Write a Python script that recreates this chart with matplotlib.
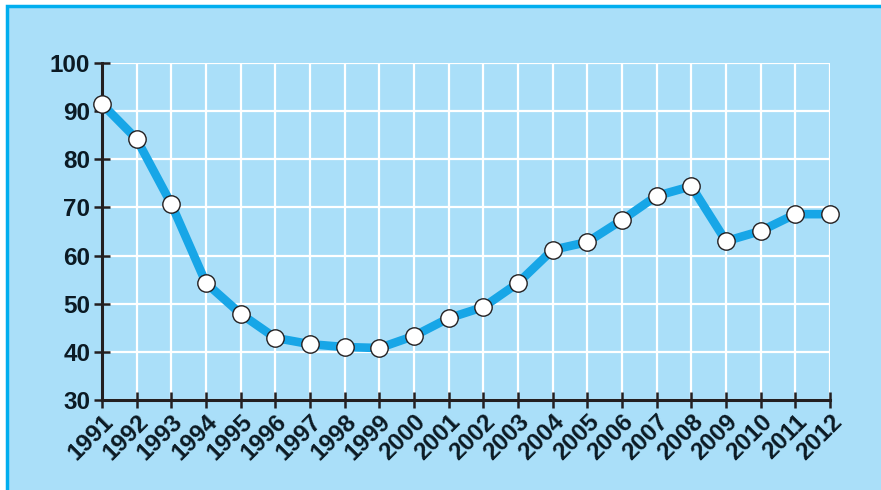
import numpy as np
import matplotlib.pyplot as plt
from matplotlib.patches import Rectangle

years = list(range(1991, 2013))
values = [91.5, 84.2, 70.7, 54.3, 47.9, 42.9, 41.6, 41.0, 40.8, 43.3, 47.0,
          49.3, 54.3, 61.2, 62.8, 67.4, 72.4, 74.4, 63.0, 65.1, 68.6, 68.6]
y_ticks = [30, 40, 50, 60, 70, 80, 90, 100]

bg = '#aadff9'
line_col = '#17a6e7'
dark = '#231f20'

fig = plt.figure(figsize=(8.81, 4.90), dpi=100, facecolor='white')
fig.patches.append(Rectangle((7 / 881, -0.1), 1.1, 1.1 - 6 / 490,
                             transform=fig.transFigure, facecolor=bg,
                             edgecolor='#00aeef', linewidth=2.5, zorder=-10))

ax = fig.add_axes([102 / 881, 1 - 400 / 490, 728 / 881, 337 / 490])
ax.set_facecolor(bg)
ax.set_xlim(1991, 2012)
ax.set_ylim(30, 100)

for x in years:
    ax.axvline(x, color='white', lw=1.6, zorder=1)
for y in y_ticks:
    ax.axhline(y, color='white', lw=1.6, zorder=1)

ax.plot(years, values, color=line_col, lw=6.2, zorder=3, solid_capstyle='round',
        solid_joinstyle='round', clip_on=False)
ax.plot(years, values, 'o', ms=12.5, mfc='white', mec=dark, mew=1.0, zorder=4,
        clip_on=False)

for s in ['top', 'right']:
    ax.spines[s].set_visible(False)
for s in ['left', 'bottom']:
    ax.spines[s].set_color(dark)
    ax.spines[s].set_linewidth(2.2)
    ax.spines[s].set_zorder(2)

ax.set_xticks(years)
ax.set_yticks(y_ticks)
ax.tick_params(direction='inout', length=11, width=1.8, color=dark,
               labelsize=17.5, labelcolor='#0b1a24', pad=3)
ax.tick_params(axis='x', pad=2)
ax.set_xticklabels([str(y) for y in years], rotation=45, ha='right',
                   va='top', rotation_mode='anchor', fontweight='bold',
                   family='Liberation Sans')
ax.set_yticklabels([str(y) for y in y_ticks], fontweight='bold',
                   family='Liberation Sans')

fig.savefig('out.png', dpi=100, facecolor='white')
